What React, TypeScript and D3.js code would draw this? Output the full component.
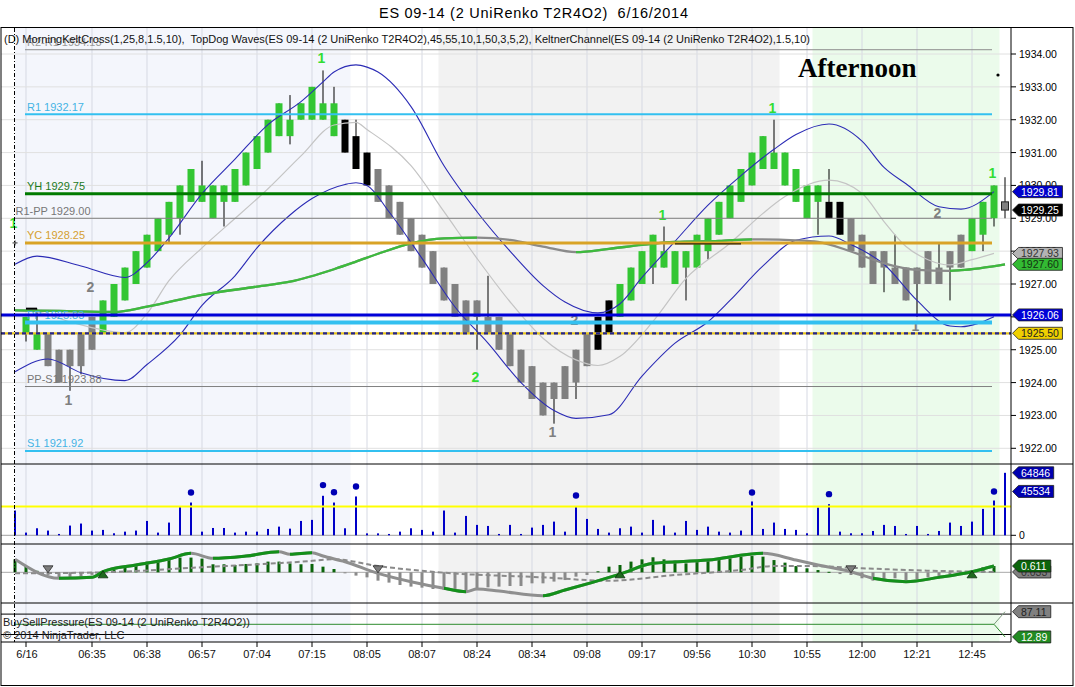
import React from "react";
import * as d3 from "d3";

// ---------------- texts ----------------
const titleText = "ES 09-14 (2 UniRenko T2R4O2)  6/16/2014";
const indicatorText =
  "(D) MorningKeltCross(1,25,8,1.5,10),  TopDog Waves(ES 09-14 (2 UniRenko T2R4O2),45,55,10,1,50,3,5,2), KeltnerChannel(ES 09-14 (2 UniRenko T2R4O2),1.5,10)";
const bspText = "BuySellPressure(ES 09-14 (2 UniRenko T2R4O2))";
const copyrightText = "\u00A9 2014 NinjaTrader, LLC";
const sessionText = "Afternoon";

// ---------------- axes ----------------
const priceTicks = [1922, 1923, 1924, 1925, 1926, 1927, 1928, 1929, 1930, 1931, 1932, 1933, 1934];
const timeTickBars = [0, 6, 11, 16, 21, 26, 31, 36, 41, 46, 51, 56, 61, 66, 71, 76, 81, 86];
const timeTickLabels = ["6/16", "06:35", "06:38", "06:57", "07:04", "07:15", "08:05", "08:07", "08:24",
  "08:34", "09:08", "09:17", "09:56", "10:30", "10:55", "12:00", "12:21", "12:45"];

// ---------------- bars (index -1 .. 89): open, close, high, low, state ----------------
const firstBar = -1;
const bars: Array<[number, number, number | null, number | null, string]> = [
  [1928.25, 1928.25, null, null, "k"], // -1
  [1925.5, 1926.0, null, 1925.25, "g"], // 0
  [1925.5, 1925.0, 1926.25, null, "g"],
  [1925.5, 1924.5, null, null, "r"],
  [1925.0, 1924.0, null, null, "r"],
  [1924.5, 1925.0, null, 1923.75, "r"],
  [1924.5, 1925.5, null, 1924.25, "r"],
  [1925.0, 1926.0, null, null, "r"],
  [1925.5, 1926.5, null, null, "g"],
  [1926.0, 1927.0, null, null, "g"],
  [1926.5, 1927.5, null, null, "g"],
  [1927.0, 1928.0, null, null, "g"], // 10
  [1927.5, 1928.5, null, null, "g"],
  [1928.0, 1929.0, null, null, "g"],
  [1928.5, 1929.5, null, 1928.25, "g"],
  [1929.0, 1930.0, null, 1928.5, "g"],
  [1929.5, 1930.5, null, null, "g"],
  [1930.0, 1929.5, 1930.75, null, "g"],
  [1930.0, 1929.0, null, null, "g"],
  [1929.5, 1930.0, null, 1928.75, "g"],
  [1929.5, 1930.5, null, null, "g"],
  [1930.0, 1931.0, null, null, "g"], // 20
  [1930.5, 1931.5, null, null, "g"],
  [1931.0, 1932.0, null, null, "g"],
  [1931.5, 1932.5, null, null, "g"],
  [1932.0, 1931.5, 1932.75, 1931.25, "g"],
  [1932.0, 1932.5, null, null, "g"],
  [1932.0, 1933.0, null, null, "g"],
  [1932.5, 1932.0, 1933.5, null, "g"],
  [1932.5, 1931.5, 1933.0, null, "g"],
  [1932.0, 1931.0, null, null, "k"],
  [1931.5, 1930.5, 1932.0, null, "k"], // 30
  [1931.0, 1930.0, null, null, "k"],
  [1930.5, 1929.5, null, null, "r"],
  [1930.0, 1929.0, null, null, "r"],
  [1929.5, 1928.5, null, null, "r"],
  [1929.0, 1928.0, null, null, "r"],
  [1928.5, 1927.5, null, null, "r"],
  [1928.0, 1927.0, null, null, "r"],
  [1927.5, 1926.5, null, null, "r"],
  [1927.0, 1926.0, null, null, "r"],
  [1926.5, 1925.5, null, null, "r"], // 40
  [1926.0, 1926.5, null, 1925.0, "r"],
  [1926.0, 1925.5, 1927.25, null, "r"],
  [1926.0, 1925.0, null, null, "r"],
  [1925.5, 1924.5, null, null, "r"],
  [1925.0, 1924.0, null, null, "r"],
  [1924.5, 1923.5, null, null, "r"],
  [1924.0, 1923.0, null, null, "r"],
  [1923.5, 1924.0, null, 1922.75, "r"],
  [1923.5, 1924.5, null, null, "r"],
  [1924.0, 1925.0, null, 1923.5, "r"], // 50
  [1924.5, 1925.5, null, null, "r"],
  [1925.0, 1926.0, null, null, "k"],
  [1925.5, 1926.5, null, null, "k"],
  [1926.0, 1927.0, null, null, "g"],
  [1926.5, 1927.5, null, null, "g"],
  [1927.0, 1928.0, null, null, "g"],
  [1927.5, 1928.5, null, 1927.0, "g"],
  [1928.0, 1927.5, 1928.75, null, "g"],
  [1928.0, 1927.0, null, null, "g"],
  [1927.5, 1928.0, null, 1926.5, "g"], // 60
  [1927.5, 1928.5, null, null, "g"],
  [1928.0, 1929.0, null, 1927.75, "g"],
  [1928.5, 1929.5, null, null, "g"],
  [1929.0, 1930.0, null, null, "g"],
  [1929.5, 1930.5, null, null, "g"],
  [1930.0, 1931.0, null, null, "g"],
  [1930.5, 1931.5, null, null, "g"],
  [1931.0, 1930.5, 1932.0, null, "g"],
  [1931.0, 1930.0, null, null, "g"],
  [1930.5, 1929.5, null, null, "g"], // 70
  [1930.0, 1929.0, null, null, "g"],
  [1929.5, 1930.0, null, 1928.5, "g"],
  [1929.5, 1929.0, 1930.5, null, "k"],
  [1929.5, 1928.5, null, null, "k"],
  [1929.0, 1928.0, null, null, "r"],
  [1928.5, 1927.5, null, null, "r"],
  [1928.0, 1927.0, null, null, "r"],
  [1927.5, 1928.0, null, 1926.75, "r"],
  [1927.5, 1927.0, 1928.5, null, "r"],
  [1927.5, 1926.5, null, null, "r"], // 80
  [1927.0, 1927.5, null, 1926.0, "r"],
  [1927.0, 1928.0, null, null, "r"],
  [1927.5, 1927.0, 1928.25, null, "r"],
  [1927.5, 1928.0, null, 1926.5, "r"],
  [1927.5, 1928.5, null, null, "r"],
  [1928.0, 1929.0, null, null, "g"],
  [1928.5, 1929.5, null, 1928.0, "g"],
  [1929.0, 1930.0, null, 1928.75, "g"],
  [1929.5, 1929.25, 1930.25, 1929.0, "r"], // 89
];

// ---------------- volume (index -1 .. 89) ----------------
const volumes = [
  25700, 2800, 7300, 4900, 1400, 10100, 12200, 4900, 5600, 2100,
  3800, 4900, 14900, 2800, 13200, 29200, 34000, 3800, 7600, 7600,
  2800, 3800, 3800, 6600, 9000, 6900, 14900, 16000, 41000, 34000,
  7300, 40300, 2000, 2000, 1400, 3800, 7300, 5600, 3800, 25700,
  2800, 20100, 10800, 9700, 1400, 10800, 1400, 8000, 10800, 14200,
  3800, 29200, 17000, 6600, 2800, 7300, 9000, 2800, 16000, 10100,
  2800, 14900, 5600, 9000, 3800, 2800, 4900, 35100, 6600, 13200,
  6600, 5600, 2100, 28800, 32300, 3800, 2100, 2100, 4500, 10800,
  9700, 1400, 9700, 1400, 4500, 13200, 9700, 14200, 27400, 36100,
  64846,
];
const volumeDotBars = [15, 27, 28, 30, 50, 66, 73, 88];
const volumeDotValues = [44400, 52100, 44700, 50600, 41300, 44400, 42700, 45534];
const volumeThreshold = 30000;
const volumeTagValues = [64846, 45534];

// ---------------- Keltner channel & trend line (bar index, price) ----------------
const keltUpperBars = [-1, 1, 5, 9, 11, 13, 16, 19, 22, 25, 27, 28, 30, 31, 32, 35, 38, 41, 44, 47,
  49, 52, 54, 56, 59, 62, 65, 68, 70, 73, 76, 78, 80, 83, 85, 88];
const keltUpperValues = [1927.6, 1927.85, 1927.55, 1927.2, 1927.65, 1928.4, 1929.75, 1930.8, 1931.85, 1932.55,
  1933.15, 1933.45, 1933.67, 1933.6, 1933.45, 1932.4, 1930.6, 1929.2, 1928.0, 1926.95,
  1926.45, 1926.12, 1926.4, 1927.2, 1928.3, 1929.4, 1930.3, 1931.1, 1931.55, 1931.87,
  1931.35, 1930.55, 1930.05, 1929.35, 1929.28, 1929.81];
const keltLowerBars = [-1, 2, 5, 9, 11, 14, 16, 19, 21, 24, 26, 29, 30, 31, 33, 36, 39, 42, 45, 48,
  50, 53, 56, 59, 62, 64, 67, 70, 73, 75, 78, 81, 84, 85, 88];
const keltLowerValues = [1924.33, 1924.72, 1924.3, 1924.06, 1924.55, 1925.45, 1926.35, 1927.25, 1928.1, 1929.1,
  1929.6, 1930.03, 1930.08, 1930.0, 1929.2, 1927.78, 1926.3, 1925.2, 1924.0, 1923.15,
  1922.91, 1923.02, 1924.2, 1925.2, 1925.85, 1926.5, 1927.55, 1928.33, 1928.46, 1928.2,
  1927.6, 1926.5, 1925.72, 1925.7, 1926.0];
const keltMidBars = [-1, 1, 4, 7, 9, 11, 13, 16, 18, 22, 25, 28, 30, 31, 35, 38, 41, 44, 47, 50,
  52, 54, 57, 60, 64, 67, 69, 73, 76, 78, 80, 82, 84, 86, 88];
const keltMidValues = [1926.2, 1926.15, 1925.85, 1925.6, 1925.52, 1926.1, 1927.1, 1928.1, 1928.7, 1929.9,
  1930.9, 1931.84, 1931.92, 1931.7, 1930.6, 1929.2, 1927.78, 1926.46, 1925.35, 1924.69,
  1924.52, 1924.8, 1925.86, 1927.17, 1928.24, 1929.15, 1929.66, 1930.16, 1929.76, 1928.9,
  1928.14, 1927.74, 1927.58, 1927.74, 1927.93];
const trendBars = [-1, 3, 8, 11, 16, 21, 24, 28, 30, 32, 35, 38, 41, 44, 47, 50, 53, 56, 59, 63,
  66, 70, 72, 75, 78, 81, 84, 85, 89];
const trendValues = [1926.2, 1926.18, 1926.15, 1926.31, 1926.67, 1926.92, 1927.07, 1927.45, 1927.68, 1927.92,
  1928.24, 1928.39, 1928.41, 1928.34, 1928.14, 1927.97, 1928.07, 1928.19, 1928.28, 1928.31,
  1928.36, 1928.33, 1928.28, 1927.99, 1927.63, 1927.43, 1927.4, 1927.42, 1927.6];
const trendStates = "-uuuuuuuuu" + "uuuddduuuu" + "udddddduu";

// ---------------- levels ----------------
const levelNames = ["R2-R1", "R1", "YH", "R1-PP", "YC", "PP", "PP-S1", "S1"];
const levelValues = [1934.13, 1932.17, 1929.75, 1929.0, 1928.25, 1925.83, 1923.88, 1921.92];
const blueLevel = 1926.06;
const dashedLevel = 1925.5;
const markStartBars = [0, 59];
const markEndBars = [1, 65];
const markPrices = [1926.25, 1928.22];

// ---------------- TopDog wave labels ----------------
const waveBars = [-1, 4, 6, 27, 41, 48, 50, 58, 68, 81, 83, 88];
const wavePrices = [1928.86, 1923.47, 1926.91, 1933.88, 1924.17, 1922.5, 1925.9, 1929.1, 1932.36, 1925.72, 1929.16, 1930.38];
const waveTexts = ["1", "1", "2", "1", "2", "1", "2", "1", "1", "1", "2", "1"];
const waveKinds = ["g", "r", "r", "g", "g", "r", "r", "g", "g", "r", "r", "g"];

const priceTagValues = [1929.81, 1929.25, 1927.93, 1927.6, 1926.06, 1925.5];

// ---------------- oscillator ----------------
const oscHist = [
  1.26, 0.61, 0.15, -0.25, -0.5, -0.45, -0.4, -0.25, 0.05, 0.22,
  0.55, 0.71, 1.04, 1.19, 1.29, 1.43, 1.43, 1.33, 0.78, 0.78,
  0.71, 0.81, 0.87, 1.04, 1.04, 0.87, 0.78, 0.81, 0.55, 0.32,
  -0.1, -0.32, -0.49, -0.81, -1.0, -1.23, -1.39, -1.49, -1.62, -1.72,
  -1.72, -1.82, -1.55, -1.46, -1.39, -1.33, -1.33, -1.07, -1.07, -0.9,
  -0.75, -0.42, -0.26, 0.1, 0.55, 0.71, 1.04, 1.26, 1.46, 1.26,
  1.14, 0.87, 1.04, 1.19, 1.26, 1.36, 1.52, 1.58, 1.52, 1.19,
  0.94, 0.61, 0.39, 0.22, 0.05, -0.17, -0.26, -0.58, -0.81, -0.68,
  -0.58, -0.75, -0.65, -0.49, -0.42, -0.26, 0.05, 0.19, 0.49, 0.61,
];
const oscMainBars = [-1, 3, 6, 7, 10, 13, 15, 17, 20, 23, 24, 26, 27, 29, 32, 35, 38, 40, 41, 43,
  47, 49, 54, 57, 62, 67, 70, 72, 75, 77, 80, 83, 86, 88];
const oscMainValues = [1.26, -0.58, -0.49, 0.06, 0.71, 1.29, 1.84, 1.36, 1.58, 2.0,
  1.75, 1.9, 1.58, 1.03, -0.1, -0.91, -1.55, -1.88, -1.62, -1.82,
  -2.27, -1.72, -0.17, 0.87, 1.19, 1.84, 1.19, 0.71, 0.06, -0.58,
  -0.91, -0.49, 0.06, 0.611];
const oscMainStates = "-duuuuuduu" + "dudddddudd" + "duuuuudddd" + "uuuu";
const oscSignalBars = [-1, 7, 16, 25, 28, 32, 38, 47, 53, 59, 65, 68, 71, 76, 82, 88];
const oscSignalValues = [-0.1, 0.0, 0.49, 1.03, 1.26, 0.61, -0.04, -0.49, -0.82, -0.26, 0.22, 0.61, 0.61, 0.39, 0.16, 0.03];
const oscCrossBars = [2, 7, 32, 54, 75, 86];
const oscCrossDirs = ["d", "u", "d", "u", "d", "u"];
const oscTagValues = [0.033, 0.611];

// ---------------- buy/sell pressure ----------------
const bspLevels = [80, 20];
const bspBase = 50;
const bspLastBuy = 87.11;
const bspLastSell = 12.89;

// ---------------- sessions (bar index ranges) ----------------
const sessionStart = [-1, 37.5, 71.5];
const sessionEnd = [29.5, 68.5, 88.5];

// ---------------- style ----------------
const FONT = "'Liberation Sans', Arial, Helvetica, sans-serif";
const sessionFill = ["#f4f6fc", "#f2f2f2", "#ebfbeb"];
const barFill: Record<string, string> = { g: "#33c633", r: "#808080", k: "#000000" };
const waveFill: Record<string, string> = { g: "#33dd33", r: "#7f7f7f" };
const levelStroke = ["#8c8c8c", "#33c0f0", "#007a00", "#808080", "#d9a326", "#33c0f0", "#808080", "#33c0f0"];
const levelWidth = [1, 2, 3, 1, 3, 4, 1, 2];
const levelText = ["#9a9a9a", "#44b4e4", "#1d7a1d", "#777777", "#d4a030", "#44b4e4", "#777777", "#44b4e4"];
const TAG_FS = 10.5;

function Tag({ y, label, fill, color, x0 }: { y: number; label: string; fill: string; color: string; x0: number }) {
  const dots = label.split(".").length - 1;
  const tw = (label.length - dots) * 0.556 * TAG_FS + dots * 0.278 * TAG_FS;
  const w = tw + 12;
  const h = 12;
  const d = `M${x0},${y} L${x0 + 6},${y - h / 2} L${x0 + w},${y - h / 2} L${x0 + w},${y + h / 2} L${x0 + 6},${y + h / 2} Z`;
  return (
    <g>
      <path d={d} fill={fill} stroke="#1a1a1a" strokeWidth={0.8} />
      <text x={x0 + 8.5} y={y + 4} fontSize={TAG_FS} fill={color}>{label}</text>
    </g>
  );
}

export default function App() {
  const RIGHT = 1011;
  const x = d3.scaleLinear().domain([0, 89]).range([26, 1005]);
  const yP = d3.scaleLinear().domain([1922, 1934]).range([448.3, 54]);
  const yV = d3.scaleLinear().domain([0, 74000]).range([535.3, 464]);
  const yO = d3.scaleLinear().domain([-2.98, 2.75]).range([603, 544]);
  const yB = d3.scaleLinear().domain([0, 100]).range([641.3, 607.3]);

  const pathOf = (bs: number[], vs: number[], ys: (v: number) => number) =>
    d3.line<number>().x((_, k) => x(bs[k])).y((v) => ys(v)).curve(d3.curveMonotoneX)(vs) || "";

  const runsOf = (bs: number[], states: string) => {
    const runs: [number, number][] = [];
    for (let k = 1; k < bs.length; k++) {
      if (states[k] === "u") {
        const a = x(bs[k - 1]);
        let b = x(bs[k]);
        if (k === bs.length - 1) b += 4;
        if (runs.length && Math.abs(runs[runs.length - 1][1] - a) < 0.01) runs[runs.length - 1][1] = b;
        else runs.push([a, b]);
      }
    }
    return runs;
  };

  const trendRuns = runsOf(trendBars, trendStates);
  const oscRuns = runsOf(oscMainBars, oscMainStates);

  const trendPath = pathOf(trendBars, trendValues, yP);
  const oscMainPath = pathOf(oscMainBars, oscMainValues, yO);

  const lvlX0 = x(0) - 1;
  const lvlX1 = x(88) - 2;

  return (
    <svg width={1075} height={687} style={{ position: "absolute", left: 0, top: 0, background: "#fff" }} fontFamily={FONT}>
      <defs>
        <clipPath id="pricePanel"><rect x={1} y={28} width={RIGHT - 1} height={436} /></clipPath>
        <clipPath id="volPanel"><rect x={1} y={464} width={RIGHT - 1} height={80} /></clipPath>
        <clipPath id="oscPanel"><rect x={1} y={544} width={RIGHT - 1} height={59} /></clipPath>
        <clipPath id="trendGreen">
          {trendRuns.map(([a, b], k) => <rect key={k} x={a} y={28} width={b - a} height={436} />)}
        </clipPath>
        <clipPath id="oscGreen">
          {oscRuns.map(([a, b], k) => <rect key={k} x={a} y={544} width={b - a} height={59} />)}
        </clipPath>
      </defs>
      <rect x={0} y={0} width={1075} height={687} fill="#ffffff" />

      {/* session shading */}
      {sessionStart.map((s, k) => (
        <rect key={k} x={x(s)} y={28} width={x(sessionEnd[k]) - x(s)} height={614} fill={sessionFill[k]} />
      ))}

      {/* grid */}
      {timeTickBars.map((b, k) => (
        <line key={k} x1={x(b)} x2={x(b)} y1={28} y2={642} stroke="#d6d9e3" strokeWidth={1} />
      ))}
      {priceTicks.map((p) => (
        <line key={p} x1={1} x2={RIGHT} y1={yP(p)} y2={yP(p)} stroke="#e0e0e0" strokeWidth={1} />
      ))}

      {/* title */}
      <text x={379} y={18} fontSize={14.5} fill="#000" textLength={309} lengthAdjust="spacing"
        style={{ whiteSpace: "pre" }} xmlSpace="preserve">{titleText}</text>

      {/* price panel */}
      <g clipPath="url(#pricePanel)">
        {/* wicks */}
        {bars.map((b, k) => {
          const i = firstBar + k;
          const hi = Math.max(b[0], b[1], b[2] ?? -Infinity);
          const lo = Math.min(b[0], b[1], b[3] ?? Infinity);
          if (hi === lo) return null;
          return <line key={"w" + k} x1={x(i)} x2={x(i)} y1={yP(hi)} y2={yP(lo)} stroke="#000" strokeWidth={1} />;
        })}
        {/* bodies */}
        {bars.map((b, k) => {
          const i = firstBar + k;
          const top = yP(Math.max(b[0], b[1]));
          const bot = yP(Math.min(b[0], b[1]));
          if (bot - top < 0.5) {
            return (
              <g key={"b" + k}>
                <line x1={x(i) - 2.5} x2={x(i) + 2.5} y1={top} y2={top} stroke="#333" strokeWidth={1} />
                <line x1={x(i)} x2={x(i)} y1={top - 2.5} y2={top + 2.5} stroke="#333" strokeWidth={1} />
              </g>
            );
          }
          const isLast = k === bars.length - 1;
          return (
            <rect key={"b" + k} x={x(i) - 3.5} y={top} width={7} height={bot - top}
              fill={barFill[b[4]]} stroke={isLast ? "#222" : "none"} strokeWidth={isLast ? 1 : 0} />
          );
        })}

        {/* Keltner channel */}
        <path d={pathOf(keltMidBars, keltMidValues, yP)} fill="none" stroke="#c4c4c4" strokeWidth={1.2} />
        <path d={pathOf(keltUpperBars, keltUpperValues, yP)} fill="none" stroke="#2b2bb5" strokeWidth={1.1} />
        <path d={pathOf(keltLowerBars, keltLowerValues, yP)} fill="none" stroke="#2b2bb5" strokeWidth={1.1} />

        {/* trend line */}
        <path d={trendPath} fill="none" stroke="#8a8a8a" strokeWidth={2.3} />
        <path d={trendPath} fill="none" stroke="#3dbb3d" strokeWidth={2.3} clipPath="url(#trendGreen)" />

        {/* wave labels */}
        {waveBars.map((b, k) => (
          <text key={"wv" + k} x={x(b) - 1.5} y={yP(wavePrices[k]) + 5} textAnchor="middle" fontSize={14}
            fontWeight="bold" fill={waveFill[waveKinds[k]]}>{waveTexts[k]}</text>
        ))}

        {/* levels */}
        {levelValues.map((v, k) => {
          const x0 = levelNames[k] === "R1-PP" ? x(-1) : lvlX0;
          return (
            <g key={"lv" + k}>
              <line x1={x0} x2={lvlX1} y1={yP(v)} y2={yP(v)} stroke={levelStroke[k]} strokeWidth={levelWidth[k]} />
              <text x={levelNames[k] === "R1-PP" ? 15.5 : 27} y={yP(v) - 3.5} fontSize={11} fill={levelText[k]}>
                {`${levelNames[k]} ${v.toFixed(2)}`}
              </text>
            </g>
          );
        })}
        <line x1={1} x2={RIGHT} y1={yP(blueLevel)} y2={yP(blueLevel)} stroke="#0000d8" strokeWidth={3} />
        <line x1={1} x2={RIGHT} y1={yP(dashedLevel)} y2={yP(dashedLevel)} stroke="#e6c41e" strokeWidth={2.2} />
        <line x1={1} x2={RIGHT} y1={yP(dashedLevel)} y2={yP(dashedLevel)} stroke="#25258f" strokeWidth={2.2} strokeDasharray="4,3" />
        {markStartBars.map((s, k) => (
          <line key={"mk" + k} x1={x(s)} x2={x(markEndBars[k])} y1={yP(markPrices[k])} y2={yP(markPrices[k])}
            stroke="#000" strokeWidth={k === 0 ? 2 : 1} />
        ))}
      </g>

      {/* indicator header */}
      <text x={4} y={43} fontSize={11.5} fill="#111" textLength={806} lengthAdjust="spacingAndGlyphs"
        style={{ whiteSpace: "pre" }} xmlSpace="preserve">{indicatorText}</text>

      {/* Afternoon */}
      <text x={798} y={77} fontSize={27} fontWeight="bold" fontFamily="'Liberation Serif', 'Times New Roman', serif" fill="#000">{sessionText}</text>
      <circle cx={998} cy={75} r={1.6} fill="#000" />

      {/* volume panel */}
      <g clipPath="url(#volPanel)">
        <line x1={1} x2={RIGHT} y1={yV(0)} y2={yV(0)} stroke="#a0a0a0" strokeWidth={1} />
        {volumes.map((v, k) => {
          const i = firstBar + k;
          return <rect key={"v" + k} x={x(i) - 1} y={yV(v)} width={2} height={yV(0) - yV(v)} fill="#0000c8" />;
        })}
        <line x1={1} x2={RIGHT} y1={yV(volumeThreshold)} y2={yV(volumeThreshold)} stroke="#ffff00" strokeWidth={2} />
        {volumeDotBars.map((b, k) => (
          <circle key={"vd" + k} cx={x(b)} cy={yV(volumeDotValues[k])} r={3.2} fill="#0000b4" />
        ))}
      </g>

      {/* oscillator panel */}
      <g clipPath="url(#oscPanel)">
        <line x1={1} x2={RIGHT} y1={yO(0)} y2={yO(0)} stroke="#a8a8a8" strokeWidth={1} />
        {oscHist.map((v, k) => {
          const i = firstBar + k;
          const y0 = yO(0), y1 = yO(v);
          return <rect key={"h" + k} x={x(i) - 1.5} y={Math.min(y0, y1)} width={3} height={Math.max(1, Math.abs(y1 - y0))}
            fill={v >= 0 ? "#0b640b" : "#8a8a8a"} />;
        })}
        <path d={pathOf(oscSignalBars, oscSignalValues, yO)} fill="none" stroke="#8a8a8a" strokeWidth={2} strokeDasharray="5,3" />
        <path d={oscMainPath} fill="none" stroke="#8f8f8f" strokeWidth={3} />
        <path d={oscMainPath} fill="none" stroke="#13901a" strokeWidth={3} clipPath="url(#oscGreen)" />
        {oscCrossBars.map((b, k) => {
          const cx = x(b);
          if (oscCrossDirs[k] === "d") {
            const cy = yO(0) - 3;
            return <path key={"c" + k} d={`M${cx - 5},${cy - 3.5} L${cx + 5},${cy - 3.5} L${cx},${cy + 3.5} Z`} fill="#7c7c7c" stroke="#2a2a2a" strokeWidth={0.8} />;
          }
          const cy = yO(0) + 2;
          return <path key={"c" + k} d={`M${cx - 5},${cy + 3.5} L${cx + 5},${cy + 3.5} L${cx},${cy - 3.5} Z`} fill="#1f6a1f" stroke="#0c300c" strokeWidth={0.8} />;
        })}
      </g>

      {/* buy/sell pressure panel */}
      {bspLevels.map((l) => (
        <line key={"bl" + l} x1={1} x2={RIGHT} y1={yB(l)} y2={yB(l)} stroke="#000" strokeWidth={1} />
      ))}
      <line x1={x(-1)} x2={x(88)} y1={yB(bspBase)} y2={yB(bspBase)} stroke="#2e8b2e" strokeWidth={1} />
      <line x1={x(88)} x2={x(89)} y1={yB(bspBase)} y2={yB(bspLastBuy)} stroke="#7d9a7d" strokeWidth={1} />
      <line x1={x(88)} x2={x(89)} y1={yB(bspBase)} y2={yB(bspLastSell)} stroke="#2e8b2e" strokeWidth={1} />
      <text x={3} y={626} fontSize={11} fill="#222">{bspText}</text>
      <text x={3} y={639} fontSize={11} fill="#222">{copyrightText}</text>

      {/* panel borders */}
      <rect x={1} y={27.5} width={1072} height={658} fill="none" stroke="#000" strokeWidth={1} />
      {[464, 544, 603].map((yy) => (
        <line key={"pb" + yy} x1={1} x2={1073} y1={yy} y2={yy} stroke="#000" strokeWidth={1} />
      ))}
      <line x1={1} x2={RIGHT} y1={642} y2={642} stroke="#000" strokeWidth={1} />
      <line x1={RIGHT} x2={RIGHT} y1={28} y2={642} stroke="#000" strokeWidth={1} />

      {/* session break */}
      <line x1={14.5} x2={14.5} y1={28} y2={642} stroke="#000" strokeWidth={1} strokeDasharray="4,2,1,2" />

      {/* price axis */}
      {priceTicks.map((p) => (
        <g key={"pt" + p}>
          <line x1={RIGHT} x2={RIGHT + 5} y1={yP(p)} y2={yP(p)} stroke="#000" />
          <text x={RIGHT + 8} y={yP(p) + 4} fontSize={10.5} fill="#000">{p.toFixed(2)}</text>
        </g>
      ))}
      <Tag y={yP(priceTagValues[0])} label={priceTagValues[0].toFixed(2)} fill="#0000cc" color="#fff" x0={1012.5} />
      <Tag y={yP(priceTagValues[1])} label={priceTagValues[1].toFixed(2)} fill="#000000" color="#fff" x0={1012.5} />
      <Tag y={yP(priceTagValues[2])} label={priceTagValues[2].toFixed(2)} fill="#b4b4b4" color="#333" x0={1012.5} />
      <Tag y={yP(priceTagValues[3])} label={priceTagValues[3].toFixed(2)} fill="#33bb33" color="#123312" x0={1012.5} />
      <Tag y={yP(priceTagValues[4])} label={priceTagValues[4].toFixed(2)} fill="#0000d8" color="#fff" x0={1012.5} />
      <Tag y={yP(priceTagValues[5])} label={priceTagValues[5].toFixed(2)} fill="#f0d000" color="#222" x0={1012.5} />

      {/* volume axis */}
      <line x1={RIGHT} x2={RIGHT + 5} y1={yV(0)} y2={yV(0)} stroke="#000" />
      <text x={RIGHT + 8} y={yV(0) + 4} fontSize={10.5} fill="#000">0</text>
      {volumeTagValues.map((v) => (
        <Tag key={"vt" + v} y={yV(v)} label={String(v)} fill="#0000b0" color="#fff" x0={1012.5} />
      ))}

      {/* oscillator axis */}
      <Tag y={yO(oscTagValues[0])} label={oscTagValues[0].toFixed(3)} fill="#808080" color="#333" x0={1012.5} />
      <Tag y={yO(oscTagValues[1])} label={oscTagValues[1].toFixed(3)} fill="#0b640b" color="#fff" x0={1012.5} />

      {/* bsp axis */}
      <Tag y={yB(bspLastBuy)} label={bspLastBuy.toFixed(2)} fill="#808080" color="#222" x0={1012.5} />
      <Tag y={yB(bspLastSell)} label={bspLastSell.toFixed(2)} fill="#228b22" color="#fff" x0={1012.5} />

      {/* time axis */}
      {timeTickBars.map((b, k) => (
        <g key={"tt" + k}>
          <line x1={x(b)} x2={x(b)} y1={642} y2={647} stroke="#000" />
          <text x={x(b) - (k === 0 ? -1 : 0)} y={658} fontSize={11} textAnchor="middle" fill="#111">{timeTickLabels[k]}</text>
        </g>
      ))}
    </svg>
  );
}
